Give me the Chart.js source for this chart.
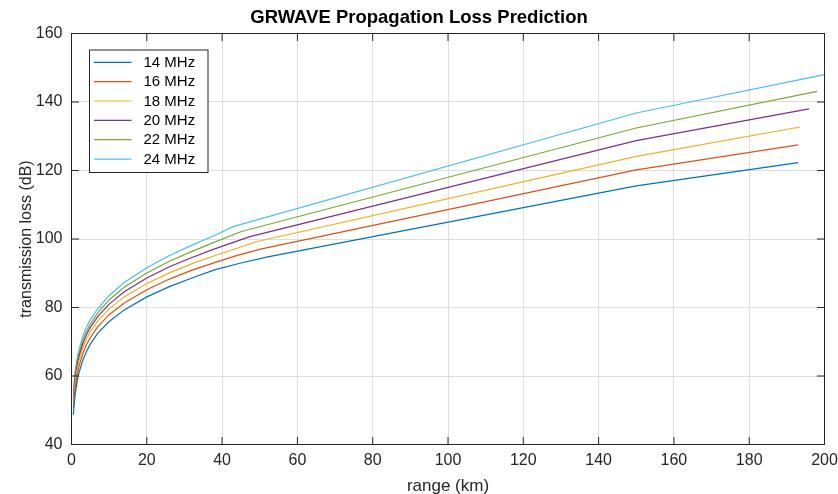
<!DOCTYPE html>
<html>
<head>
<meta charset="utf-8">
<script src="https://cdn.jsdelivr.net/npm/chart.js@4.4.1/dist/chart.umd.min.js"></script>
<style>
  html, body { margin: 0; padding: 0; background: #fff; }
  #wrap { width: 838px; height: 494px; }
</style>
</head>
<body>
<div id="wrap"><canvas id="lossChart" width="838" height="494"></canvas></div>
<script>
// frequencies and colours (MATLAB default order)
const seriesNames = ['14 MHz', '16 MHz', '18 MHz', '20 MHz', '22 MHz', '24 MHz'];
const seriesColors = ['#0072BD', '#D95319', '#EDB120', '#7E2F8E', '#77AC30', '#4DBEEE'];

// range (km) / loss (dB)
const range14 = [0.5, 0.75, 1, 1.5, 2, 3, 4, 5, 7, 10, 14, 20, 26, 32, 38, 45, 51.8, 150, 193];
const loss14  = [48.7, 52.3, 54.8, 58.4, 61.0, 64.6, 67.2, 69.3, 72.5, 75.9, 79.3, 83.1, 86.1, 88.6, 91.0, 93.0, 94.7, 115.5, 122.3];

const range16 = [0.5, 0.75, 1, 1.5, 2, 3, 4, 5, 7, 10, 14, 20, 26, 32, 38, 44, 50.5, 150, 193];
const loss16  = [50.6, 54.2, 56.7, 60.3, 62.9, 66.5, 69.2, 71.2, 74.4, 77.9, 81.3, 85.2, 88.3, 90.9, 93.1, 95.2, 97.1, 120.2, 127.5];

const range18 = [0.5, 0.75, 1, 1.5, 2, 3, 4, 5, 7, 10, 14, 20, 26, 32, 38, 44, 49.1, 150, 193.5];
const loss18  = [52.3, 55.8, 58.3, 61.9, 64.5, 68.2, 70.8, 72.9, 76.1, 79.6, 83.1, 87.0, 90.1, 92.8, 95.1, 97.3, 99.2, 124.1, 132.7];

const range20 = [0.5, 0.75, 1, 1.5, 2, 3, 4, 5, 7, 10, 14, 20, 26, 32, 38, 43, 47.4, 150, 195.9];
const loss20  = [53.5, 57.0, 59.6, 63.2, 65.7, 69.4, 72.1, 74.2, 77.4, 81.0, 84.6, 88.6, 91.9, 94.6, 97.1, 99.0, 100.7, 128.7, 138.0];

const range22 = [0.5, 0.75, 1, 1.5, 2, 3, 4, 5, 7, 10, 14, 20, 26, 32, 38, 45.1, 150, 198];
const loss22  = [54.4, 57.9, 60.5, 64.1, 66.7, 70.4, 73.1, 75.2, 78.5, 82.2, 85.9, 90.1, 93.5, 96.4, 99.1, 102.2, 132.4, 143.1];

const range24 = [0.5, 0.75, 1, 1.5, 2, 3, 4, 5, 7, 10, 14, 20, 26, 32, 38, 42.9, 150, 200];
const loss24  = [55.5, 59.1, 61.6, 65.2, 67.8, 71.6, 74.3, 76.4, 79.7, 83.5, 87.3, 91.6, 95.2, 98.2, 101.0, 103.6, 136.8, 148.0];

const allRanges = [range14, range16, range18, range20, range22, range24];
const allLosses = [loss14, loss16, loss18, loss20, loss22, loss24];

const axisColor = '#262626';
Chart.defaults.font.family = "'Liberation Sans', Arial, sans-serif";
Chart.defaults.color = axisColor;

const datasets = seriesNames.map((name, i) => ({
    label: name,
    data: allRanges[i].map((r, j) => ({ x: r, y: allLosses[i][j] })),
    borderColor: seriesColors[i],
    backgroundColor: seriesColors[i],
    borderWidth: 1.2,
    pointRadius: 0,
    tension: 0,
    fill: false
}));

// box round the axes + inward tick marks on all four sides
const axesBox = {
    id: 'axesBox',
    afterDraw(chart) {
        const { ctx, chartArea: a, scales } = chart;
        const len = 7.5;
        ctx.save();
        ctx.strokeStyle = axisColor;
        ctx.lineWidth = 1;
        ctx.strokeRect(a.left, a.top, a.right - a.left, a.bottom - a.top);
        ctx.beginPath();
        scales.x.ticks.forEach(t => {
            const px = scales.x.getPixelForValue(t.value);
            ctx.moveTo(px, a.bottom); ctx.lineTo(px, a.bottom - len);
            ctx.moveTo(px, a.top); ctx.lineTo(px, a.top + len);
        });
        scales.y.ticks.forEach(t => {
            const py = scales.y.getPixelForValue(t.value);
            ctx.moveTo(a.left, py); ctx.lineTo(a.left + len, py);
            ctx.moveTo(a.right, py); ctx.lineTo(a.right - len, py);
        });
        ctx.stroke();
        ctx.restore();
    }
};

// MATLAB style legend, top-left inside the axes
const boxLegend = {
    id: 'boxLegend',
    afterDraw(chart) {
        const { ctx, chartArea: a } = chart;
        const x0 = a.left + 18, y0 = a.top + 16.5;
        const w = 118.5, h = 122.5, rowH = 19.35;
        ctx.save();
        ctx.fillStyle = '#fff';
        ctx.fillRect(x0, y0, w, h);
        ctx.strokeStyle = axisColor;
        ctx.lineWidth = 1;
        ctx.strokeRect(x0, y0, w, h);
        ctx.font = "15px 'Liberation Sans', Arial, sans-serif";
        ctx.textBaseline = 'middle';
        ctx.textAlign = 'left';
        chart.data.datasets.forEach((ds, i) => {
            const cy = y0 + 12.3 + i * rowH;
            ctx.strokeStyle = ds.borderColor;
            ctx.lineWidth = 1.2;
            ctx.beginPath();
            ctx.moveTo(x0 + 4.5, cy);
            ctx.lineTo(x0 + 42, cy);
            ctx.stroke();
            ctx.fillStyle = '#000';
            ctx.fillText(ds.label, x0 + 54, cy + 0.5);
        });
        ctx.restore();
    }
};

const chart = new Chart(document.getElementById('lossChart').getContext('2d'), {
    type: 'line',
    data: { datasets: datasets },
    options: {
        responsive: false,
        animation: false,
        devicePixelRatio: 1,
        layout: { padding: 0 },
        scales: {
            x: {
                type: 'linear',
                min: 0,
                max: 200,
                ticks: { stepSize: 20, padding: 6, maxRotation: 0, font: { size: 16 }, color: axisColor },
                grid: { color: '#dedede', drawTicks: false },
                border: { display: false },
                title: { display: true, text: 'range (km)', font: { size: 17 }, color: axisColor, padding: { top: 0, bottom: -3 } },
                afterFit: s => { s.height = 49.5; s.paddingLeft = 0; s.paddingRight = 13.5; }
            },
            y: {
                min: 40,
                max: 160,
                ticks: { stepSize: 20, padding: 9, font: { size: 16 }, color: axisColor },
                grid: { color: '#dedede', drawTicks: false },
                border: { display: false },
                title: { display: true, text: 'transmission loss (dB)', font: { size: 16 }, color: axisColor, padding: { top: 17, bottom: 0 } },
                afterFit: s => { s.width = 71.5; s.paddingTop = 0; s.paddingBottom = 0; }
            }
        },
        plugins: {
            legend: { display: false },
            tooltip: { enabled: false },
            title: {
                display: true,
                text: 'GRWAVE Propagation Loss Prediction',
                color: '#000',
                font: { size: 18.5, weight: 'bold' },
                padding: { top: 7, bottom: 4.3 }
            }
        }
    },
    plugins: [axesBox, boxLegend]
});
</script>
</body>
</html>
